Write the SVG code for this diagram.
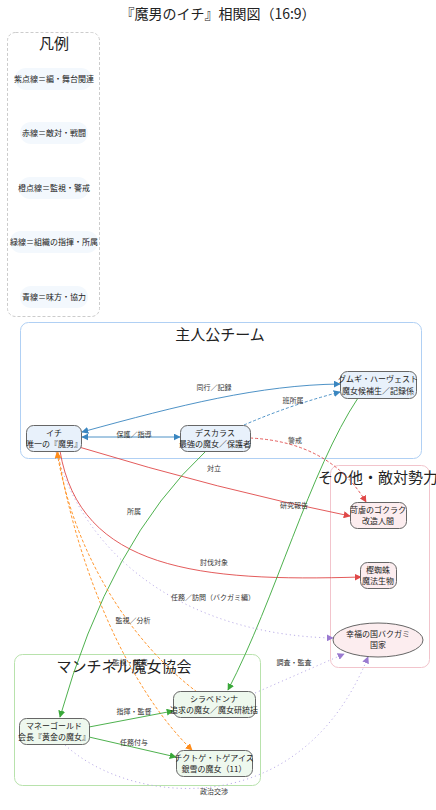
<svg xmlns="http://www.w3.org/2000/svg" width="436" height="810" viewBox="0 0 436 810">
<style>
text{font-family:"Noto Sans CJK JP","Noto Sans",sans-serif;fill:#222}
.title{font-size:14px}
.ctitle{font-size:15px}
.lg{font-size:8px}
.nt{font-size:8px;fill:#222}
.el{font-size:7px;fill:#333}
.node{stroke:#666;stroke-width:1}
.team{fill:#e8f1fb}
.enemy{fill:#fcedef}
.assoc{fill:#eef8ee}
.e{fill:none;stroke-width:0.9}
.blue{stroke:#3a86c0}
.red{stroke:#e04848}
.green{stroke:#3aa83a}
.orange{stroke:#ff8c1a}
.purple{stroke:#b4a6e4}
.dash{stroke-dasharray:3 2}
.dot{stroke-dasharray:1.2 3}
</style>
<defs>
<marker id="ab" viewBox="0 0 10 10" refX="9" refY="5" markerWidth="7" markerHeight="7" orient="auto-start-reverse" markerUnits="userSpaceOnUse"><path d="M0,0L10,5L0,10z" fill="#3a86c0"/></marker>
<marker id="ar" viewBox="0 0 10 10" refX="9" refY="5" markerWidth="7" markerHeight="7" orient="auto-start-reverse" markerUnits="userSpaceOnUse"><path d="M0,0L10,5L0,10z" fill="#e04848"/></marker>
<marker id="ag" viewBox="0 0 10 10" refX="9" refY="5" markerWidth="7" markerHeight="7" orient="auto-start-reverse" markerUnits="userSpaceOnUse"><path d="M0,0L10,5L0,10z" fill="#3aa83a"/></marker>
<marker id="ao" viewBox="0 0 10 10" refX="9" refY="5" markerWidth="7" markerHeight="7" orient="auto-start-reverse" markerUnits="userSpaceOnUse"><path d="M0,0L10,5L0,10z" fill="#ff8c1a"/></marker>
<marker id="ap" viewBox="0 0 10 10" refX="9" refY="5" markerWidth="7" markerHeight="7" orient="auto-start-reverse" markerUnits="userSpaceOnUse"><path d="M0,0L10,5L0,10z" fill="#9a7ad0"/></marker>
</defs>
<rect width="436" height="810" fill="#fff"/>
<text class="title" x="218" y="19" text-anchor="middle">『魔男のイチ』相関図（16:9）</text>

<g id="legend">
<rect x="7.5" y="32.5" width="92" height="284" rx="8" fill="#fff" stroke="#ccc" stroke-dasharray="3 2"/>
<text class="ctitle" x="54" y="49" text-anchor="middle">凡例</text>
<rect x="15" y="68" width="77" height="22" rx="11" fill="#f3f8fd"/>
<text class="lg" x="54" y="82" text-anchor="middle">紫点線＝編・舞台関連</text>
<rect x="20" y="122" width="68" height="22" rx="11" fill="#f3f8fd"/>
<text class="lg" x="54" y="136" text-anchor="middle">赤線＝敵対・戦闘</text>
<rect x="19" y="177" width="70" height="22" rx="11" fill="#f3f8fd"/>
<text class="lg" x="54" y="191" text-anchor="middle">橙点線＝監視・警戒</text>
<rect x="10" y="231" width="88" height="22" rx="11" fill="#f3f8fd"/>
<text class="lg" x="54" y="245" text-anchor="middle">緑線＝組織の指揮・所属</text>
<rect x="20" y="286" width="68" height="22" rx="11" fill="#f3f8fd"/>
<text class="lg" x="54" y="300" text-anchor="middle">青線＝味方・協力</text>
</g>

<g id="cluster-team">
<rect x="20.5" y="322.5" width="401" height="136" rx="8" fill="#fff" stroke="#b0d0f4"/>
<text class="ctitle" x="220" y="340" text-anchor="middle">主人公チーム</text>
</g>
<g id="cluster-enemy">
<rect x="330.5" y="465.5" width="99" height="202" rx="8" fill="#fff" stroke="#f2c4cc"/>
<text class="ctitle" x="378" y="483" text-anchor="middle">その他・敵対勢力</text>
</g>
<g id="cluster-assoc">
<rect x="14.5" y="654.5" width="246" height="131" rx="8" fill="#fff" stroke="#b8e2ac"/>
<text class="ctitle" x="124" y="672" text-anchor="middle">マンチネル魔女協会</text>
</g>

<g id="connectors">
<path class="e blue" d="M82,432 C180,405 260,385 340,384" marker-start="url(#ab)" marker-end="url(#ab)"/>
<path class="e blue" stroke-width="1.6" d="M82,437 L180,437" marker-start="url(#ab)" marker-end="url(#ab)"/>
<path class="e blue dash" d="M244,425 Q290,405 340,392" marker-end="url(#ab)"/>
<path class="e red dash" d="M250,438 Q330,442 366,502" marker-end="url(#ar)"/>
<path class="e red" d="M79,447 Q220,490 350,516" marker-end="url(#ar)"/>
<path class="e red" d="M60,451 C80,570 200,582 361,577" marker-end="url(#ar)"/>
<path class="e green" d="M206,451 Q110,540 60,717" marker-end="url(#ag)"/>
<path class="e green" d="M358,398 C310,470 275,600 228,690" marker-end="url(#ag)"/>
<path class="e purple dot" d="M56,452 C90,570 200,635 333,638" marker-end="url(#ap)"/>
<path class="e orange dash" d="M58,452 C75,560 125,685 192,750" marker-end="url(#ao)"/>
<path class="e orange dash" d="M197,692 C135,645 75,560 57,452" marker-end="url(#ao)"/>
<path class="e green" d="M89,727 L173,711" marker-end="url(#ag)"/>
<path class="e green" d="M89,737 L176,757" marker-end="url(#ag)"/>
<path class="e purple dot" d="M255,693 L344,654" marker-end="url(#ap)"/>
<path class="e purple dot" d="M65,745 C130,805 300,825 368,657" marker-end="url(#ap)"/>
<text class="el" x="214" y="390" text-anchor="middle">同行／記録</text>
<text class="el" x="134" y="437" text-anchor="middle">保護／指導</text>
<text class="el" x="293" y="403" text-anchor="middle">班所属</text>
<text class="el" x="295" y="443" text-anchor="middle">警戒</text>
<text class="el" x="214" y="471" text-anchor="middle">対立</text>
<text class="el" x="294" y="508" text-anchor="middle">研究報告</text>
<text class="el" x="134" y="514" text-anchor="middle">所属</text>
<text class="el" x="214" y="565" text-anchor="middle">討伐対象</text>
<text class="el" x="213" y="600" text-anchor="middle">任務／訪問（バクガミ編）</text>
<text class="el" x="133" y="623" text-anchor="middle">監視／分析</text>
<text class="el" x="130" y="665" text-anchor="middle">監視・研究</text>
<text class="el" x="294" y="665" text-anchor="middle">調査・監査</text>
<text class="el" x="134" y="714" text-anchor="middle">指揮・監督</text>
<text class="el" x="134" y="745" text-anchor="middle">任務付与</text>
<text class="el" x="214" y="794" text-anchor="middle">政治交渉</text>
</g>

<g id="ichi">
<rect class="node team" x="26.5" y="425.5" width="55" height="26" rx="7"/>
<text class="nt" x="54" y="436" text-anchor="middle">イチ</text>
<text class="nt" x="54" y="447" text-anchor="middle">唯一の『魔男』</text>
</g>
<g id="descaras">
<rect class="node team" x="180.5" y="425.5" width="70" height="26" rx="7"/>
<text class="nt" x="215" y="436" text-anchor="middle">デスカラス</text>
<text class="nt" x="215" y="447" text-anchor="middle">最強の魔女／保護者</text>
</g>
<g id="gumugi">
<rect class="node team" x="340.5" y="371.5" width="76" height="27" rx="7"/>
<text class="nt" x="378" y="382" text-anchor="middle">グムギ・ハーヴェスト</text>
<text class="nt" x="378" y="394" text-anchor="middle">魔女候補生／記録係</text>
</g>
<g id="gokuraku">
<rect class="node enemy" x="350.5" y="502.5" width="56" height="26" rx="7"/>
<text class="nt" x="378" y="513" text-anchor="middle">苛虐のゴクラク</text>
<text class="nt" x="378" y="524" text-anchor="middle">改造人間</text>
</g>
<g id="kashigumo">
<rect class="node enemy" x="360.5" y="562.5" width="36" height="26" rx="7"/>
<text class="nt" x="378" y="573" text-anchor="middle">樫蜘蛛</text>
<text class="nt" x="378" y="584" text-anchor="middle">魔法生物</text>
</g>
<g id="bakugami">
<ellipse class="node enemy" cx="378" cy="640" rx="45" ry="17"/>
<text class="nt" x="378" y="637" text-anchor="middle">幸福の国バクガミ</text>
<text class="nt" x="378" y="648" text-anchor="middle">国家</text>
</g>
<g id="moneygold">
<rect class="node assoc" x="19.5" y="718.5" width="70" height="26" rx="7"/>
<text class="nt" x="54" y="729" text-anchor="middle">マネーゴールド</text>
<text class="nt" x="54" y="740" text-anchor="middle">会長『黄金の魔女』</text>
</g>
<g id="shirabedonna">
<rect class="node assoc" x="173.5" y="691.5" width="82" height="26" rx="7"/>
<text class="nt" x="214" y="702" text-anchor="middle">シラベドンナ</text>
<text class="nt" x="214" y="713" text-anchor="middle">追求の魔女／魔女研統括</text>
</g>
<g id="chikutoge">
<rect class="node assoc" x="176.5" y="750.5" width="76" height="26" rx="7"/>
<text class="nt" x="214" y="761" text-anchor="middle">チクトゲ・トゲアイス</text>
<text class="nt" x="214" y="772" text-anchor="middle">銀雪の魔女（11）</text>
</g>
</svg>
